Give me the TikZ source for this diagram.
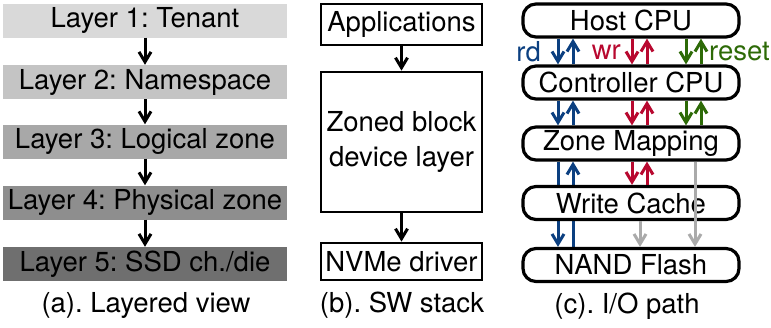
\documentclass[tikz,border=0pt]{standalone}
\usepackage{fontspec}
\setmainfont{TeX Gyre Heros}
\frenchspacing
\usetikzlibrary{arrows.meta,backgrounds}
\definecolor{rdblue}{HTML}{0B3F80}
\definecolor{wrred}{HTML}{B8082F}
\definecolor{rsgreen}{HTML}{2D6A07}
\definecolor{gcgray}{HTML}{AAAAAA}
\tikzset{
  every node/.style={font=\fontsize{27.5}{32}\selectfont, inner sep=0pt},
  layerbox/.style={minimum width=284pt, minimum height=34pt},
  swbox/.style={draw, line width=2.8pt, minimum width=161pt},
  iobox/.style={draw, fill=white, line width=3.2pt, rounded corners=13pt,
    minimum width=216pt, minimum height=33pt},
  flow/.style={-{Straight Barb[length=10pt,width=12pt,line width=3pt]}, line width=3pt},
}
\begin{document}
\begin{tikzpicture}[x=1pt,y=-1pt]
\useasboundingbox (0,0) rectangle (771,327);

% (a) layered view
\node[layerbox, fill={rgb,255:red,217;green,217;blue,217}] (l1) at (145,20.5) {Layer 1: Tenant};
\node[layerbox, fill={rgb,255:red,196;green,196;blue,196}] (l2) at (145,82) {Layer 2: Namespace};
\node[layerbox, fill={rgb,255:red,168;green,168;blue,168}] (l3) at (145,141.5) {Layer 3: Logical zone};
\node[layerbox, fill={rgb,255:red,142;green,142;blue,142}] (l4) at (145,202.5) {Layer 4: Physical zone};
\node[layerbox, fill={rgb,255:red,111;green,111;blue,111}] (l5) at (145,264) {Layer 5: SSD ch./die};
\foreach \a/\b in {l1/l2,l2/l3,l3/l4,l4/l5}
  \draw[flow] (\a.south) -- (\b.north);
\node (capa) at (146,305) {(a). Layered view};

% (b) software stack
\node[swbox, minimum height=41pt] (app) at (401.5,24.5) {Applications};
\node[swbox, minimum height=140pt, align=center] (zbd) at (401.5,142)
  {Zoned block\\[3pt]device layer};
\node[swbox, minimum height=37pt] (nvme) at (401.5,261.5) {NVMe driver};
\draw[flow] (app.south) -- (zbd.north);
\draw[flow] (zbd.south) -- (nvme.north);
\node (capb) at (402,305) {(b). SW stack};

% (c) I/O path
\node[iobox] (host) at (631,20.5) {Host CPU};
\node[iobox] (ctrl) at (631,82.5) {Controller CPU};
\node[iobox] (zmap) at (631,143.5) {Zone Mapping};
\node[iobox] (wcache) at (631,203) {Write Cache};
\node[iobox] (nand) at (631,265) {NAND Flash};
\node (capc) at (627,306) {(c). I/O path};

\coordinate (rdn) at (558,0);
\coordinate (rup) at (573,0);
\coordinate (wdn) at (632,0);
\coordinate (wup) at (647,0);
\coordinate (sdn) at (686,0);
\coordinate (sup) at (701,0);
\coordinate (gsh) at (640,0);
\coordinate (glg) at (695,0);

% reads
\draw[flow, rdblue] (host.south -| rdn) -- (ctrl.north -| rdn);
\draw[flow, rdblue] (ctrl.north -| rup) -- (host.south -| rup);
\draw[flow, rdblue] (ctrl.south -| rdn) -- (zmap.north -| rdn);
\draw[flow, rdblue] (zmap.north -| rup) -- (ctrl.south -| rup);
\begin{scope}[on background layer]
  \draw[flow, rdblue] (zmap.south -| rdn) -- (nand.north -| rdn);
  \draw[flow, rdblue] (nand.north -| rup) -- (zmap.south -| rup);
\end{scope}
% writes
\draw[flow, wrred] (host.south -| wdn) -- (ctrl.north -| wdn);
\draw[flow, wrred] (ctrl.north -| wup) -- (host.south -| wup);
\draw[flow, wrred] (ctrl.south -| wdn) -- (zmap.north -| wdn);
\draw[flow, wrred] (zmap.north -| wup) -- (ctrl.south -| wup);
\draw[flow, wrred] (zmap.south -| wdn) -- (wcache.north -| wdn);
\draw[flow, wrred] (wcache.north -| wup) -- (zmap.south -| wup);
% resets
\draw[flow, rsgreen] (host.south -| sdn) -- (ctrl.north -| sdn);
\draw[flow, rsgreen] (ctrl.north -| sup) -- (host.south -| sup);
\draw[flow, rsgreen] (ctrl.south -| sdn) -- (zmap.north -| sdn);
\draw[flow, rsgreen] (zmap.north -| sup) -- (ctrl.south -| sup);
% flushes to flash
\draw[flow, gcgray] (wcache.south -| gsh) -- (nand.north -| gsh);
\draw[flow, gcgray] (zmap.south -| glg) -- (nand.north -| glg);

\node[rdblue, anchor=east] (rdlbl) at (541,52) {rd};
\node[wrred, anchor=east] (wrlbl) at (621,52) {wr};
\node[rsgreen, anchor=west] (rslbl) at (709,52) {reset};
\end{tikzpicture}
\end{document}
